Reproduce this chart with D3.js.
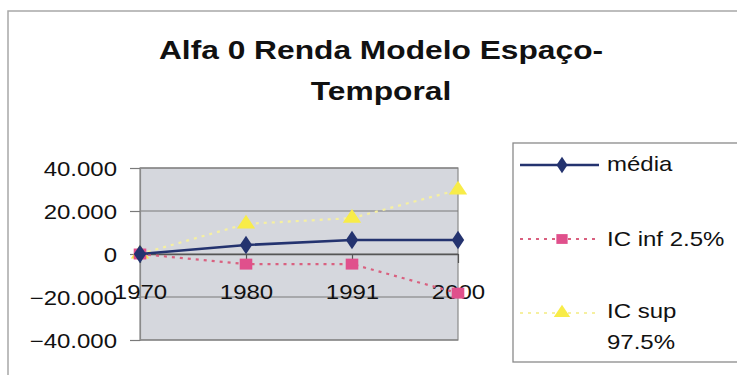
<!DOCTYPE html>
<html>
<head>
<meta charset="utf-8">
<script src="https://cdn.jsdelivr.net/npm/d3@7"></script>
<style>
  body { margin: 0; background: #fff; }
  svg { display: block; font-family: Arial, "Liberation Sans", sans-serif; }
</style>
</head>
<body>
<svg id="chart" width="737" height="375"></svg>
<script>
// data
const years = ["1970", "1980", "1991", "2000"];
const media = [0, 4200, 6500, 6500];
const icInf = [0, -4700, -4700, -18200];
const icSup = [0, 14000, 16700, 29800];
const yTicks = [-40000, -20000, 0, 20000, 40000];
const titleLines = ["Alfa 0 Renda Modelo Espaço-", "Temporal"];

// the scan is stretched sideways, so text gets stretched too
const sx = 1.2;

const svg = d3.select("#chart");

// outer chart border
svg.append("rect")
  .attr("x", 8).attr("y", 11)
  .attr("width", 760).attr("height", 400)
  .attr("fill", "#fff")
  .attr("stroke", "#a8a8a8")
  .attr("stroke-width", 1.5);

// title
titleLines.forEach(function(t, i) {
  svg.append("text")
    .attr("transform", "translate(381," + (59 + i * 41) + ") scale(1.22,1)")
    .attr("text-anchor", "middle")
    .attr("font-size", 26)
    .attr("font-weight", "bold")
    .attr("fill", "#111")
    .text(t);
});

let plot = {left: 140, right: 458, top: 168, bottom: 340};

let x = d3.scalePoint()
  .domain(years)
  .range([plot.left, plot.right])
  .padding(0);

let y = d3.scaleLinear()
  .domain([-40000, 40000])
  .range([plot.bottom, plot.top]);

// plot area
svg.append("rect")
  .attr("x", plot.left).attr("y", plot.top)
  .attr("width", plot.right - plot.left)
  .attr("height", plot.bottom - plot.top)
  .attr("fill", "#d5d7dd")
  .attr("stroke", "#8a8a8a")
  .attr("stroke-width", 1.2);

// gridlines
svg.append("g")
  .selectAll("line")
  .data(yTicks)
  .join("line")
  .attr("x1", plot.left).attr("x2", plot.right)
  .attr("y1", d => y(d)).attr("y2", d => y(d))
  .attr("stroke", "#7a7a7a")
  .attr("stroke-width", 1.2);

// y axis
let fmt = d => d === 0 ? "0" : d3.format(",")(d).replace(/,/g, ".");
let yAxis = d3.axisLeft(y).tickValues(yTicks).tickFormat(fmt).tickSize(10).tickPadding(0);
let gy = svg.append("g")
  .attr("transform", "translate(" + plot.left + ",0)")
  .call(yAxis);
gy.select(".domain").attr("stroke", "#8a8a8a").attr("stroke-width", 1.2);
gy.selectAll(".tick line").attr("stroke", "#7a7a7a").attr("stroke-width", 1.2);
gy.selectAll(".tick text")
  .attr("x", 0)
  .attr("dy", "0.36em")
  .attr("transform", "translate(-23,0) scale(" + sx + ",1)")
  .attr("font-size", 20)
  .attr("font-family", "Arial, 'Liberation Sans', sans-serif")
  .attr("fill", "#111");

// x axis at zero
let xAxis = d3.axisBottom(x).tickSize(9).tickSizeOuter(0).tickPadding(0);
let gx = svg.append("g")
  .attr("transform", "translate(0," + y(0) + ")")
  .call(xAxis);
gx.select(".domain").attr("stroke", "#555").attr("stroke-width", 1.3);
gx.selectAll(".tick line").attr("stroke", "#555").attr("stroke-width", 1.2);
gx.selectAll(".tick text")
  .attr("y", 0)
  .attr("dy", 0)
  .attr("transform", "translate(0,45) scale(" + sx + ",1)")
  .attr("font-size", 20)
  .attr("font-family", "Arial, 'Liberation Sans', sans-serif")
  .attr("fill", "#111");

// series
let series = [
  {name: "média", values: media, color: "#24336f", lineColor: "#24336f", dash: null, width: 2.6, shape: d3.symbolDiamond, size: 100},
  {name: "IC inf 2.5%", values: icInf, color: "#e0508c", lineColor: "#d9607f", dash: "3,5", width: 2.2, shape: d3.symbolSquare, size: 120},
  {name: "IC sup 97.5%", values: icSup, color: "#f8ec48", lineColor: "#f6f0a0", dash: "3,5", width: 2.2, shape: d3.symbolTriangle, size: 110}
];

let line = d3.line()
  .x((d, i) => x(years[i]))
  .y(d => y(d));

// draw in reverse order so média is on top
series.slice().reverse().forEach(function(s) {
  svg.append("path")
    .attr("d", line(s.values))
    .attr("fill", "none")
    .attr("stroke", s.lineColor)
    .attr("stroke-width", s.width)
    .attr("stroke-dasharray", s.dash);
  svg.append("g")
    .selectAll("path")
    .data(s.values)
    .join("path")
    .attr("transform", (d, i) => "translate(" + x(years[i]) + "," + y(d) + ") scale(1.15,1)")
    .attr("d", d3.symbol().type(s.shape).size(s.size))
    .attr("fill", s.color);
});

// legend
svg.append("rect")
  .attr("x", 513).attr("y", 143)
  .attr("width", 240).attr("height", 219)
  .attr("fill", "#fff")
  .attr("stroke", "#8a8a8a")
  .attr("stroke-width", 1.3);

let legendRows = [
  {s: series[0], ly: 165, lines: ["média"], ty: 171},
  {s: series[1], ly: 239, lines: ["IC inf 2.5%"], ty: 246},
  {s: series[2], ly: 313, lines: ["IC sup", "97.5%"], ty: 318}
];

legendRows.forEach(function(r) {
  let g = svg.append("g");
  g.append("line")
    .attr("x1", 520).attr("x2", 599)
    .attr("y1", r.ly).attr("y2", r.ly)
    .attr("stroke", r.s.lineColor)
    .attr("stroke-width", r.s.width)
    .attr("stroke-dasharray", r.s.dash);
  g.append("path")
    .attr("transform", "translate(562," + r.ly + ") scale(1.15,1)")
    .attr("d", d3.symbol().type(r.s.shape).size(r.s.size * 0.8))
    .attr("fill", r.s.color);
  r.lines.forEach(function(t, i) {
    g.append("text")
      .attr("transform", "translate(607," + (r.ty + i * 31) + ") scale(" + sx + ",1)")
      .attr("font-size", 20)
      .attr("fill", "#111")
      .text(t);
  });
});
</script>
</body>
</html>
